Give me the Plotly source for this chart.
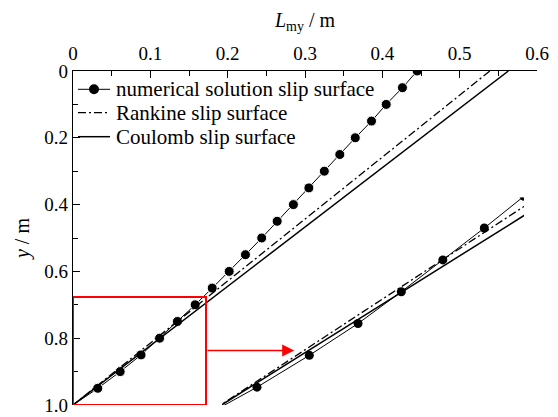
import plotly.graph_objects as go

# ---- data ----
num_y = [0.00, 0.05, 0.10, 0.15, 0.20, 0.25, 0.30, 0.35, 0.40, 0.45, 0.50,
         0.55, 0.60, 0.65, 0.70, 0.75, 0.80, 0.85, 0.90, 0.95, 1.00]
num_x = [0.445, 0.426, 0.405, 0.386, 0.365, 0.345, 0.325, 0.305, 0.285, 0.264, 0.244,
         0.223, 0.202, 0.180, 0.158, 0.135, 0.112, 0.088, 0.061, 0.032, 0.000]
rankine_x = [0.539, 0.0]
rankine_y = [0.0, 1.0]
coulomb_x = [0.563, 0.0]
coulomb_y = [0.0, 1.0]

x_tickvals = [0, 0.1, 0.2, 0.3, 0.4, 0.5, 0.6]
x_ticktext = ["0", "0.1", "0.2", "0.3", "0.4", "0.5", "0.6"]
y_tickvals = [0, 0.2, 0.4, 0.6, 0.8, 1.0]
y_ticktext = ["0", "0.2", "0.4", "0.6", "0.8", "1.0"]

legend_names = ["numerical solution slip surface", "Rankine slip surface", "Coulomb slip surface"]

zoom_box_x = [0.0, 0.172]
zoom_box_y = [0.677, 1.0]
inset_x_range = [0.0126, 0.18]
inset_y_range = [0.978, 0.652]

FONT = "Liberation Serif"
DASHDOT = "8px,3px,2px,3px"

# plot area in pixels
PL, PR, PT, PB = 73, 537, 71, 405
W, H = 558, 417

def px_x(p):
    return (p - PL) / (PR - PL)

def px_y(p):
    return (PB - p) / (PB - PT)

marker_sizes = [10] * (len(num_x) - 1) + [5]
marker_symbols = ["circle"] * (len(num_x) - 1) + ["square"]

fig = go.Figure()

def add_series(xa, ya, main):
    fig.add_trace(go.Scatter(
        x=num_x, y=num_y, mode="lines+markers", name=legend_names[0],
        line=dict(color="black", width=1),
        marker=dict(color="black", opacity=1,
                    size=marker_sizes if main else 9,
                    symbol=marker_symbols if main else "circle"),
        xaxis=xa, yaxis=ya, showlegend=False, hoverinfo="skip"))
    fig.add_trace(go.Scatter(
        x=rankine_x, y=rankine_y, mode="lines", name=legend_names[1],
        line=dict(color="black", width=1.3, dash=DASHDOT),
        xaxis=xa, yaxis=ya, showlegend=False, hoverinfo="skip"))
    fig.add_trace(go.Scatter(
        x=coulomb_x, y=coulomb_y, mode="lines", name=legend_names[2],
        line=dict(color="black", width=1.5),
        xaxis=xa, yaxis=ya, showlegend=False, hoverinfo="skip"))

add_series("x", "y", True)
add_series("x2", "y2", False)

axis_font = dict(family=FONT, size=19, color="black")

fig.update_layout(
    width=W, height=H,
    margin=dict(l=PL, r=W - PR, t=PT, b=H - PB, autoexpand=False),
    paper_bgcolor="white", plot_bgcolor="rgba(0,0,0,0)",
    font=dict(family=FONT, size=19, color="black"),
    showlegend=False,
    xaxis=dict(
        range=[0, 0.6], side="top", showline=True, linecolor="black", linewidth=1.3,
        mirror=False, showgrid=False, zeroline=False, automargin=False,
        tickvals=x_tickvals, ticktext=x_ticktext, ticks="inside", ticklen=7,
        tickcolor="black", tickwidth=1.2, tickfont=axis_font, ticklabelstandoff=2,
        minor=dict(ticks="inside", ticklen=5, dtick=0.05, tickcolor="black", tickwidth=1.2, showgrid=False),
        title=dict(text="<i>L</i><sub>my</sub> / m", font=dict(family=FONT, size=20, color="black"), standoff=10),
        domain=[0, 1],
    ),
    yaxis=dict(
        range=[1.0, 0], showline=True, linecolor="black", linewidth=1.3,
        mirror=False, showgrid=False, zeroline=False, automargin=False,
        tickvals=y_tickvals, ticktext=y_ticktext, ticks="inside", ticklen=7,
        tickcolor="black", tickwidth=1.2, tickfont=axis_font, ticklabelstandoff=0,
        minor=dict(ticks="inside", ticklen=5, dtick=0.1, tickcolor="black", tickwidth=1.2, showgrid=False),
        title=dict(text="<i>y</i> / m", font=dict(family=FONT, size=20, color="black"), standoff=9),
        domain=[0, 1],
    ),
    xaxis2=dict(
        range=inset_x_range, domain=[px_x(222), px_x(524)], anchor="y2",
        visible=False, showgrid=False, zeroline=False,
    ),
    yaxis2=dict(
        range=inset_y_range, domain=[0.0, px_y(197.5)], anchor="x2",
        visible=False, showgrid=False, zeroline=False,
    ),
)

# zoom box
fig.add_shape(
    type="rect", xref="x", yref="y",
    x0=zoom_box_x[0], x1=zoom_box_x[1], y0=zoom_box_y[0], y1=zoom_box_y[1],
    line=dict(color="red", width=2),
)

# arrow to inset
fig.add_annotation(
    x=0.286, y=0.837, ax=zoom_box_x[1], ay=0.837,
    xref="x", yref="y", axref="x", ayref="y",
    text="", showarrow=True, arrowhead=2, arrowsize=1.6, arrowwidth=1.5,
    arrowcolor="red",
)

# ---- legend (drawn manually for exact spacing) ----
rows_y = [89.3, 112.7, 136.7]
line_styles = [dict(color="black", width=1),
               dict(color="black", width=1.3, dash=DASHDOT),
               dict(color="black", width=1.5)]
for name, ry, ls in zip(legend_names, rows_y, line_styles):
    fig.add_shape(type="line", xref="paper", yref="paper",
                  x0=px_x(78), x1=px_x(110), y0=px_y(ry), y1=px_y(ry), line=ls)
    fig.add_annotation(x=px_x(114), y=px_y(ry), xref="paper", yref="paper",
                       text=name, showarrow=False, xanchor="left", yanchor="middle",
                       font=dict(family=FONT, size=21, color="black"))
fig.add_shape(type="circle", xref="paper", yref="paper",
              xsizemode="pixel", ysizemode="pixel",
              xanchor=px_x(94), yanchor=px_y(rows_y[0]),
              x0=-5, x1=5, y0=-5, y1=5,
              fillcolor="black", line=dict(color="black", width=0))

fig.write_html("out.html", config={"displayModeBar": False},
               post_script="document.body.style.margin='0px';")
